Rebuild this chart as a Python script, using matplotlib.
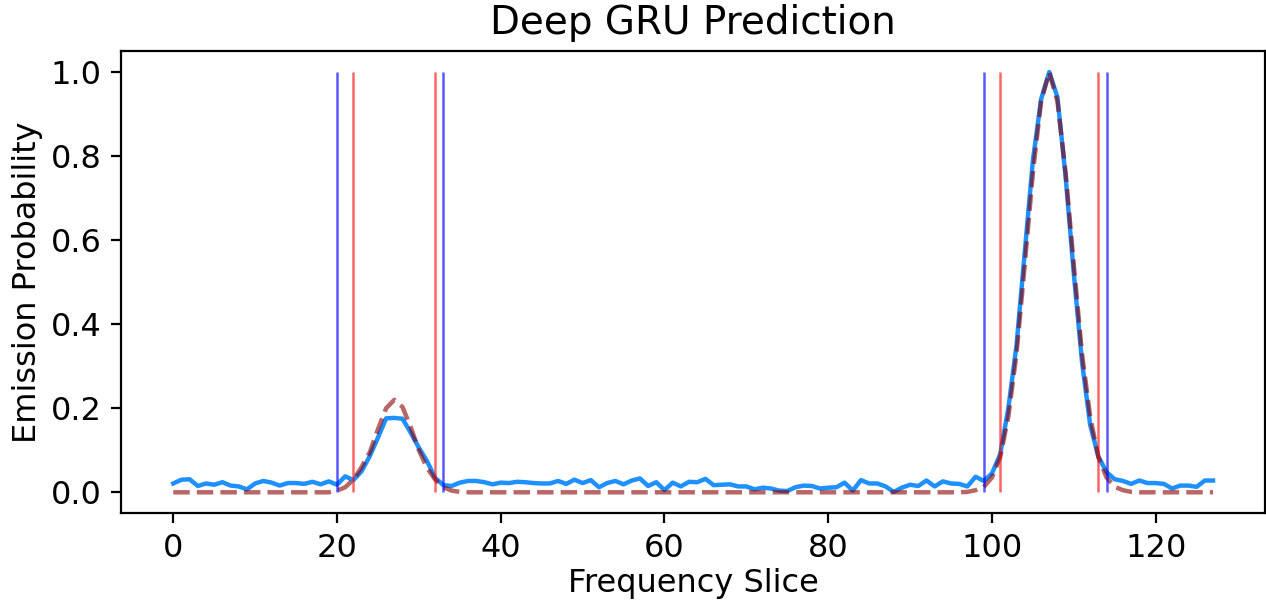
import numpy as np
from matplotlib import pyplot as plt

# predicted emission (blue), one value per frequency slice 0..127
predicted = [
    0.021, 0.030, 0.031, 0.015, 0.021, 0.018, 0.024, 0.016, 0.014, 0.007,
    0.021, 0.027, 0.023, 0.016, 0.022, 0.022, 0.020, 0.025, 0.019, 0.026,
    0.018, 0.038, 0.029, 0.050, 0.086, 0.130, 0.176, 0.177, 0.175, 0.142,
    0.106, 0.074, 0.034, 0.017, 0.015, 0.023, 0.027, 0.027, 0.024, 0.019,
    0.023, 0.022, 0.025, 0.024, 0.022, 0.021, 0.021, 0.027, 0.020, 0.030,
    0.022, 0.029, 0.012, 0.022, 0.027, 0.019, 0.028, 0.033, 0.015, 0.024,
    0.005, 0.023, 0.014, 0.025, 0.024, 0.032, 0.017, 0.018, 0.019, 0.014,
    0.014, 0.007, 0.011, 0.009, 0.004, 0.003, 0.012, 0.016, 0.015, 0.009,
    0.011, 0.012, 0.023, 0.004, 0.029, 0.021, 0.021, 0.014, 0.001, 0.011,
    0.018, 0.015, 0.028, 0.014, 0.026, 0.021, 0.020, 0.014, 0.037, 0.027,
    0.045, 0.090, 0.200, 0.350, 0.570, 0.790, 0.935, 1.000, 0.940, 0.750,
    0.520, 0.310, 0.160, 0.085, 0.048, 0.031, 0.027, 0.020, 0.028, 0.022,
    0.022, 0.020, 0.009, 0.016, 0.016, 0.013, 0.028, 0.028,
]

# target emission (red dashed)
target = [0.0] * 128
target_peaks = {
    20: 0.004, 21: 0.012, 22: 0.030, 23: 0.060, 24: 0.095, 25: 0.150,
    26: 0.200, 27: 0.220, 28: 0.203, 29: 0.155, 30: 0.100, 31: 0.058,
    32: 0.030, 33: 0.012, 34: 0.004, 35: 0.001,
    97: 0.001, 98: 0.005, 99: 0.013, 100: 0.035, 101: 0.083, 102: 0.180,
    103: 0.330, 104: 0.540, 105: 0.760, 106: 0.930, 107: 1.000, 108: 0.930,
    109: 0.760, 110: 0.540, 111: 0.330, 112: 0.180, 113: 0.083, 114: 0.035,
    115: 0.013, 116: 0.005, 117: 0.001,
}
for k, v in target_peaks.items():
    target[k] = v

predicted_bounds = [20, 33, 99, 114]
target_bounds = [22, 32, 101, 113]

fig = plt.figure(figsize=(6.33, 3.005), dpi=200)
ax = fig.add_axes([0.0958, 0.1459, 0.9034, 0.7692])

slices = np.arange(len(predicted))
ax.plot(slices, predicted, color='dodgerblue', linewidth=1.6)
ax.plot(slices, target, color='darkred', alpha=0.6, linestyle='--',
        linewidth=1.6)
ax.vlines(predicted_bounds, 0, 1, color='blue', alpha=0.65, linewidth=0.9)
ax.vlines(target_bounds, 0, 1, color='red', alpha=0.6, linewidth=0.9)

ax.set_title('Deep GRU Prediction', fontsize=14)
ax.set_xlabel('Frequency Slice', fontsize=11.5, labelpad=1.5)
ax.set_ylabel('Emission Probability', fontsize=11.5, labelpad=3)
ax.tick_params(labelsize=11.5)

fig.savefig('out.png', dpi=200)
